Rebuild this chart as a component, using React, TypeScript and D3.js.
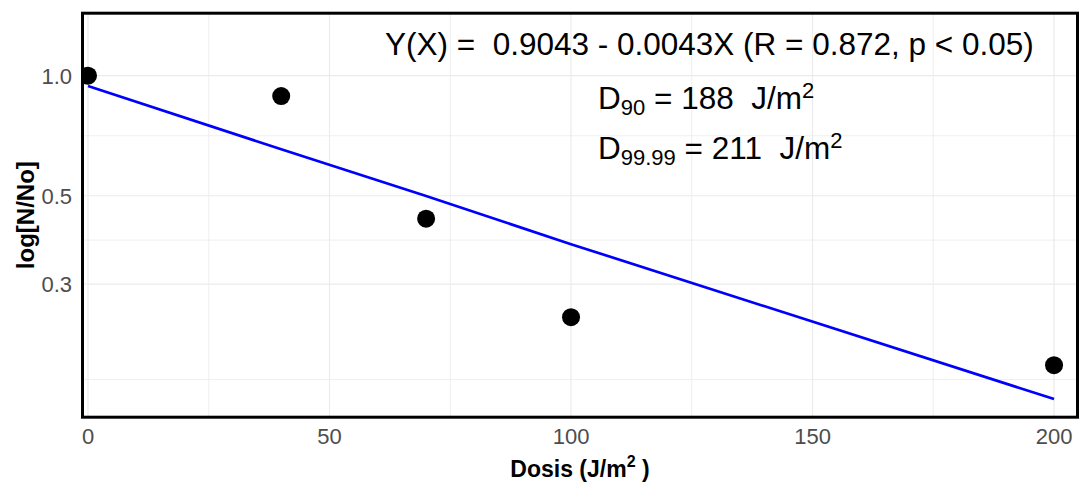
import React from "react";
import * as d3 from "d3";

const dose = [0, 40, 70, 100, 200];
const survival = [1.0, 0.889, 0.438, 0.248, 0.188];
const fitted = [0.942, 0.654, 0.499, 0.378, 0.1546];

const xTicks = [0, 50, 100, 150, 200];
const xMinor = [25, 75, 125, 175];
const yTicks = [1.0, 0.5, 0.3];
const yTickLabels = ["1.0", "0.5", "0.3"];
const yMinor = [0.173, 0.387, 0.707];

const W = 1086;
const H = 489;
const L = 82.5, R = 1077.5, T = 13.2, B = 417.2;
const FONT = "'Liberation Sans', Arial, Helvetica, sans-serif";

export default function App() {
  const x = d3.scaleLinear().domain([-1.14, 204.86]).range([L, R]);
  const y = d3.scaleLog().domain([0.1392, 1.4344]).range([B, T]);
  const pts = dose.map((d, i) => ({ d, s: survival[i], f: fitted[i] }));
  const line = d3
    .line<{ d: number; f: number }>()
    .x((p) => x(p.d))
    .y((p) => y(p.f));

  return (
    <svg
      width={W}
      height={H}
      style={{ position: "absolute", left: 0, top: 0, background: "#fff" }}
      fontFamily={FONT}
    >
      <defs>
        <clipPath id="panel">
          <rect x={L} y={T} width={R - L} height={B - T} />
        </clipPath>
      </defs>
      <rect x={0} y={0} width={W} height={H} fill="#fff" />
      <g clipPath="url(#panel)">
        {yMinor.map((v) => (
          <line key={"ym" + v} x1={L} x2={R} y1={y(v)} y2={y(v)} stroke="#ebebeb" strokeWidth={0.8} />
        ))}
        {xMinor.map((v) => (
          <line key={"xm" + v} y1={T} y2={B} x1={x(v)} x2={x(v)} stroke="#ebebeb" strokeWidth={0.8} />
        ))}
        {yTicks.map((v) => (
          <line key={"yM" + v} x1={L} x2={R} y1={y(v)} y2={y(v)} stroke="#ebebeb" strokeWidth={1.2} />
        ))}
        {xTicks.map((v) => (
          <line key={"xM" + v} y1={T} y2={B} x1={x(v)} x2={x(v)} stroke="#ebebeb" strokeWidth={1.2} />
        ))}
        <path d={line(pts) || ""} fill="none" stroke="#0000ff" strokeWidth={2.7} />
        {pts.map((p) => (
          <circle key={"p" + p.d} cx={x(p.d)} cy={y(p.s)} r={9} fill="#000" />
        ))}
      </g>
      <rect x={L} y={T} width={R - L} height={B - T} fill="none" stroke="#000" strokeWidth={3} />

      {/* tick labels */}
      {yTicks.map((v, i) => (
        <text key={"yl" + v} x={72} y={y(v)} dy="0.36em" textAnchor="end" fontSize={22} fill="#4d4d4d">
          {yTickLabels[i]}
        </text>
      ))}
      {xTicks.map((v) => (
        <text key={"xl" + v} x={x(v)} y={444} textAnchor="middle" fontSize={22} fill="#4d4d4d">
          {v}
        </text>
      ))}

      {/* axis titles */}
      <text x={(L + R) / 2} y={477} textAnchor="middle" fontSize={23} fontWeight="bold" fill="#000" style={{ whiteSpace: "pre" }}>
        <tspan>Dosis (J/m</tspan>
        <tspan dy={-10} fontSize={16}>2</tspan>
        <tspan dy={10}> )</tspan>
      </text>
      <text
        transform={`translate(34,${(T + B) / 2}) rotate(-90)`}
        textAnchor="middle"
        fontSize={24}
        fontWeight="bold"
        fill="#000"
      >
        log[N/No]
      </text>

      {/* annotations */}
      <text x={385} y={55} fontSize={31.5} fill="#000" style={{ whiteSpace: "pre" }}>
        {"Y(X) =  0.9043 - 0.0043X (R = 0.872, p < 0.05)"}
      </text>
      <text x={598} y={108.5} fontSize={31.5} fill="#000" style={{ whiteSpace: "pre" }}>
        <tspan>D</tspan>
        <tspan dy={6.5} fontSize={22}>90</tspan>
        <tspan dy={-6.5}>{" = 188  J/m"}</tspan>
        <tspan dy={-11} fontSize={22}>2</tspan>
      </text>
      <text x={598} y={158.5} fontSize={31.5} fill="#000" style={{ whiteSpace: "pre" }}>
        <tspan>D</tspan>
        <tspan dy={6.5} fontSize={22}>99.99</tspan>
        <tspan dy={-6.5}>{" = 211  J/m"}</tspan>
        <tspan dy={-11} fontSize={22}>2</tspan>
      </text>
    </svg>
  );
}
